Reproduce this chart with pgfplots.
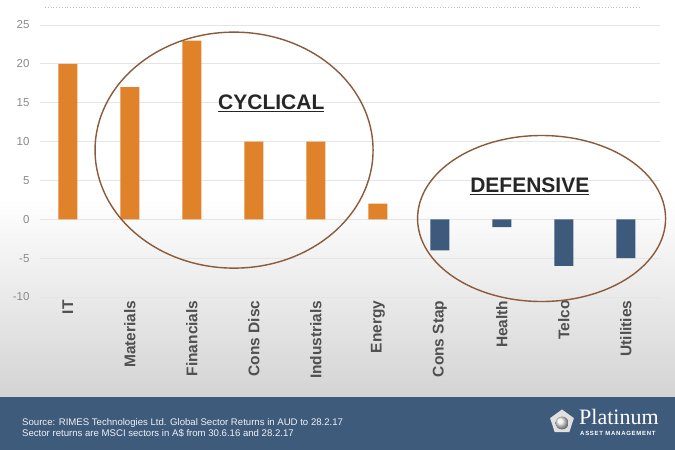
\documentclass[border=0pt]{standalone}
\usepackage{pgfplots}
\pgfplotsset{compat=1.18}
\usetikzlibrary{shapes.geometric}
\usepackage{fontspec}
\setmainfont{Liberation Sans}
\newfontfamily\serifx{Liberation Serif}
\newfontfamily\spaced[LetterSpace=12]{Liberation Sans}
\definecolor{barorange}{HTML}{E0822A}
\definecolor{barblue}{HTML}{3D5A7C}
\definecolor{footer}{HTML}{3F5B7C}
\definecolor{ellbrown}{HTML}{8A5A3A}
\definecolor{ticklab}{HTML}{8A8A8A}
\definecolor{catlab}{HTML}{505050}
\begin{document}
\begin{tikzpicture}[x=1pt,y=1pt]
\shade[top color=white, bottom color=black!17, middle color=white] (0,53) rectangle (675,450);
\fill[footer] (0,0) rectangle (675,53);
\draw[black!25, dotted, line width=0.8pt] (45,443) -- (640,443);
\begin{axis}[
  at={(40pt,153pt)}, anchor=south west,
  scale only axis, width=620pt, height=272pt,
  xmin=-0.45, xmax=9.55, ymin=-10, ymax=25,
  ytick={-10,-5,0,5,10,15,20,25},
  xtick={0,1,2,3,4,5,6,7,8,9},
  xticklabels={IT,Materials,Financials,Cons Disc,Industrials,Energy,Cons Stap,Health,Telco,Utilities},
  xticklabel style={rotate=90, anchor=east, font=\bfseries\fontsize{15.5}{16}\selectfont, text=catlab},
  yticklabel style={font=\fontsize{11.5}{12}\selectfont, text=ticklab, xshift=-7pt},
  /pgf/number format/assume math mode=true,
  axis line style={draw=none},
  major tick length=0pt,
  ymajorgrids, grid style={black!10, line width=0.8pt},
  ybar, bar width=19pt, bar shift=0pt,
  clip=false,
]
\addplot[fill=barorange, draw=none] coordinates {(0,20) (1,17) (2,23) (3,10) (4,10) (5,2)};
\addplot[fill=barblue, draw=none] coordinates {(6,-4) (7,-1) (8,-6) (9,-5)};
\draw[ellbrown, line width=1.4pt] (axis cs:2.68,8.9) ellipse [x radius=139pt, y radius=118pt];
\draw[ellbrown, line width=1.4pt] (axis cs:7.64,0.1) ellipse [x radius=124pt, y radius=83pt];
\node[font=\bfseries\fontsize{21}{22}\selectfont, text=black!85] at (axis cs:3.28,14.9) {\underline{CYCLICAL}};
\node[font=\bfseries\fontsize{21}{22}\selectfont, text=black!85] at (axis cs:7.45,4.3) {\underline{DEFENSIVE}};
\end{axis}
\node[anchor=west, text=white!92!footer, font=\fontsize{9.6}{11}\selectfont, align=left, inner sep=0pt] at (22,22) {Source: RIMES Technologies Ltd. Global Sector Returns in AUD to 28.2.17\\Sector returns are MSCI sectors in A\$ from 30.6.16 and 28.2.17};
\node[regular polygon, regular polygon sides=5, minimum size=25pt, fill=black!12, inner sep=0pt] at (562,28) {};
\shade[ball color=white!85!gray] (562,27) circle (6.5pt);
\node[anchor=base west, text=white, font=\serifx\fontsize{22}{24}\selectfont, inner sep=0pt] at (579,25) {Platinum};
\node[anchor=base west, text=white, font=\spaced\bfseries\fontsize{6}{6}\selectfont, inner sep=0pt] at (580,14.5) {ASSET MANAGEMENT};
\end{tikzpicture}
\end{document}
